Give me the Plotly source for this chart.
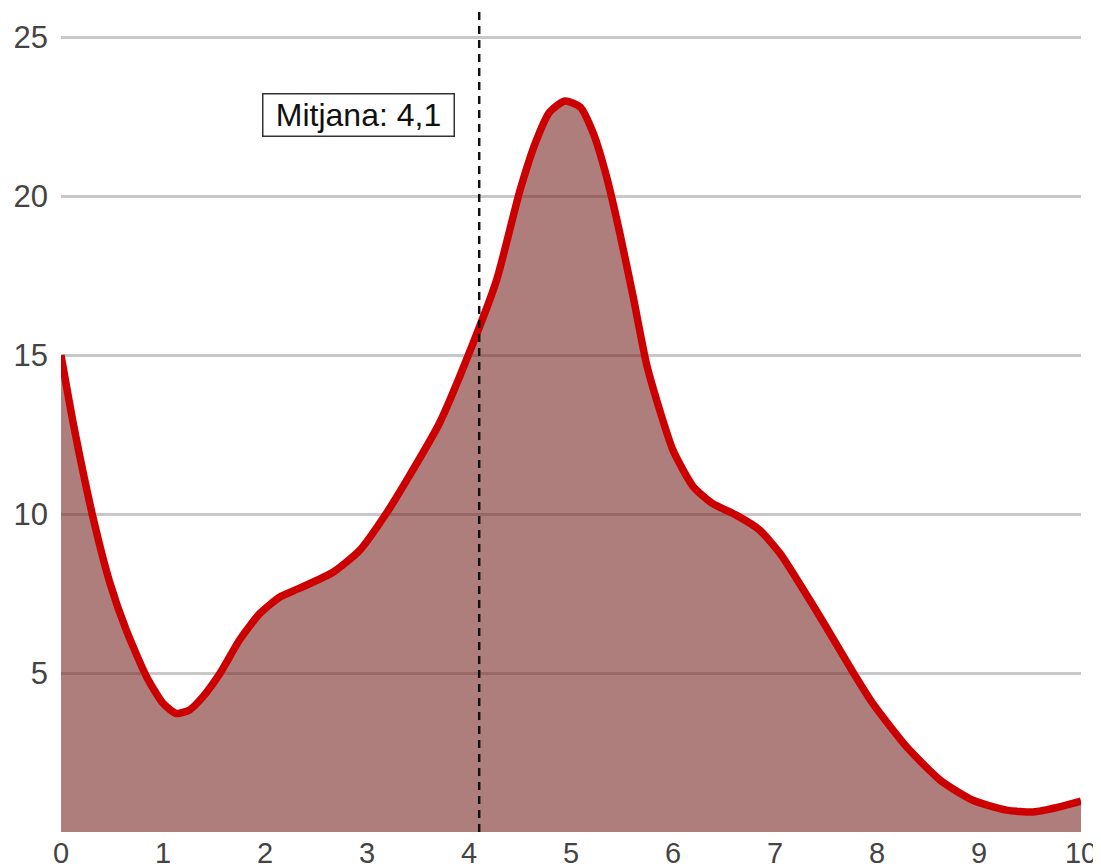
import plotly.graph_objects as go

x_vals = [0, 0.12, 0.32, 0.48, 0.64, 0.84, 1.0, 1.13, 1.26, 1.39, 1.56, 1.75, 1.95, 2.15, 2.34,
          2.67, 2.93, 3.19, 3.39, 3.71, 4.04, 4.27, 4.5, 4.66, 4.79, 4.94, 5.09, 5.22, 5.35, 5.48,
          5.61, 5.74, 5.87, 6.0, 6.2, 6.39, 6.62, 6.85, 7.05, 7.24, 7.5, 7.77, 7.96, 8.29, 8.62,
          8.94, 9.27, 9.53, 9.79, 10]
y_vals = [15, 12.86, 9.81, 7.83, 6.35, 4.88, 4.05, 3.73, 3.84, 4.25, 5.0, 6.04, 6.88, 7.4, 7.67,
          8.18, 8.87, 10.03, 11.07, 12.86, 15.38, 17.36, 20.19, 21.76, 22.65, 23.0, 22.81, 21.97, 20.6, 18.82,
          16.83, 14.73, 13.27, 12.01, 10.86, 10.33, 9.97, 9.5, 8.76, 7.82, 6.46, 5.0, 4.04, 2.68, 1.63,
          1.0, 0.69, 0.63, 0.79, 0.97]
mean_value = 4.1
mean_label = "Mitjana: 4,1"
x_ticks = list(range(0, 11))
y_ticks = [5, 10, 15, 20, 25]

FONT = "Arial, Liberation Sans, sans-serif"

fig = go.Figure()
fig.add_trace(go.Scatter(
    x=x_vals, y=y_vals, mode="lines",
    line=dict(color="#cc0000", width=7.5, shape="spline", smoothing=0.6),
    fill="tozeroy", fillcolor="rgba(120,40,38,0.6)",
    hoverinfo="skip", showlegend=False,
))

fig.add_shape(type="line", xref="x", yref="paper", x0=mean_value, x1=mean_value, y0=0, y1=1,
              line=dict(color="#111111", width=2.5, dash="8px,6px"), layer="above")

fig.add_annotation(x=2.92, y=22.55, xref="x", yref="y", text=mean_label, showarrow=False,
                   font=dict(family=FONT, size=32, color="#111111"),
                   bgcolor="white", bordercolor="#333333", borderwidth=1.5, borderpad=1,
                   width=188, height=39,
                   xanchor="center", yanchor="middle")

# page body has an 8px margin, so the figure is offset by 8px; size accordingly
fig.update_layout(
    width=1093, height=860,
    margin=dict(l=53, r=20, t=4, b=36, autoexpand=False),
    plot_bgcolor="white", paper_bgcolor="white",
    font=dict(family=FONT, size=30, color="#444444"),
    showlegend=False,
)
fig.update_xaxes(range=[0, 10], tickvals=x_ticks, ticktext=[str(v) for v in x_ticks],
                 showgrid=False, zeroline=False, showline=False, ticks="",
                 automargin=False, ticklabelstandoff=1,
                 tickfont=dict(size=29, color="#444444"))
fig.update_yaxes(range=[0, 25.8], tickvals=y_ticks, ticktext=[str(v) for v in y_ticks],
                 showgrid=True, gridcolor="#c8c8c8", gridwidth=2.5,
                 zeroline=False, showline=False, ticks="", ticklabelstandoff=12,
                 automargin=False,
                 tickfont=dict(size=31, color="#444444"))

fig.write_html("out.html")
